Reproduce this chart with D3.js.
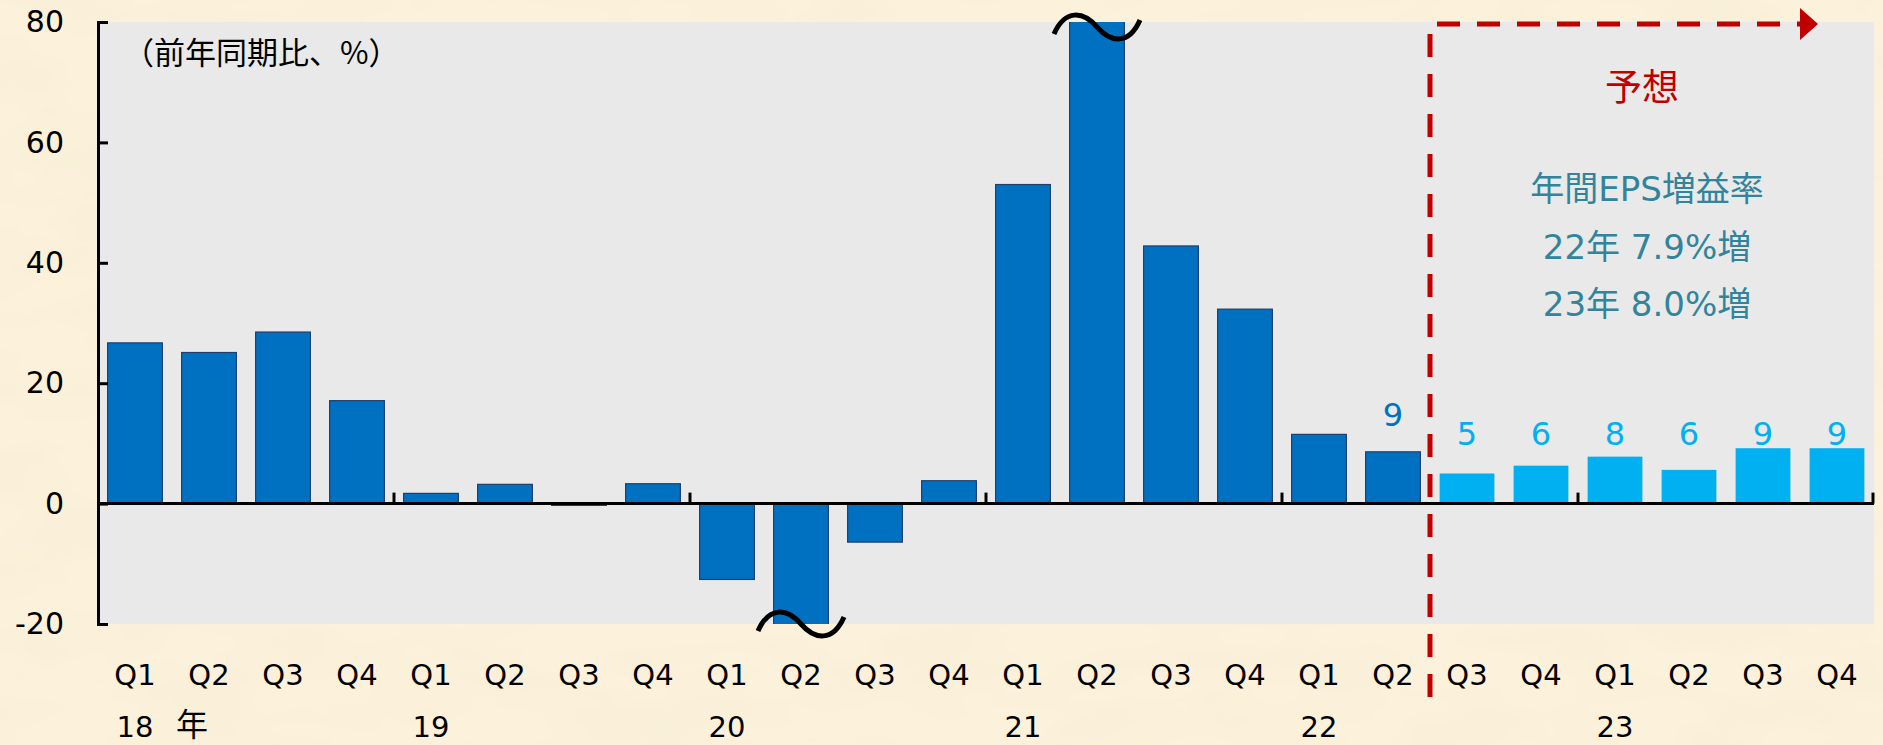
<!DOCTYPE html>
<html>
<head>
<meta charset="utf-8">
<script src="https://cdn.jsdelivr.net/npm/d3@7"></script>
<style>
  html, body { margin: 0; padding: 0; background: #fcf1da; }
  svg { display: block; }
</style>
</head>
<body>
<svg id="chart" width="1883" height="745"></svg>
<script>
// quarterly EPS growth, % y/y
const quarters = ["Q1","Q2","Q3","Q4","Q1","Q2","Q3","Q4","Q1","Q2","Q3","Q4",
                  "Q1","Q2","Q3","Q4","Q1","Q2","Q3","Q4","Q1","Q2","Q3","Q4"];
const yearLabels = ["18","19","20","21","22","23"];
const actual = [26.7, 25.1, 28.5, 17.1, 1.7, 3.2, -0.3, 3.3, -12.6, -31.6, -6.4, 3.8,
                53.0, 88.8, 42.8, 32.3, 11.5, 8.6];
const forecast = [5.0, 6.3, 7.8, 5.6, 9.2, 9.2];
const forecastLabels = ["5","6","8","6","9","9"];
const lastActualLabel = "9";
const yTicks = [-20, 0, 20, 40, 60, 80];
const noteLines = ["年間EPS増益率", "22年 7.9%増", "23年 8.0%増"];

const W = 1883, H = 745;
const margin = {top: 22, right: 9, bottom: 121, left: 98};
const latin = "'DejaVu Sans', 'Noto Sans CJK JP', sans-serif";
const jp = "'Noto Sans CJK JP', sans-serif";

const data = d3.range(quarters.length).map(i => ({
  i: i,
  q: quarters[i],
  v: i < actual.length ? actual[i] : forecast[i - actual.length],
  fc: i >= actual.length
}));

const svg = d3.select("#chart");

// paper background
const defs = svg.append("defs");
const f = defs.append("filter").attr("id", "paper")
  .attr("x", 0).attr("y", 0).attr("width", "100%").attr("height", "100%");
f.append("feTurbulence").attr("type", "fractalNoise")
  .attr("baseFrequency", "0.008 0.02").attr("numOctaves", 3).attr("seed", 7);
f.append("feColorMatrix").attr("type", "matrix")
  .attr("values", "0 0 0 0 0.93  0 0 0 0 0.86  0 0 0 0 0.68  0 0 0 1.3 -0.5");
svg.append("rect").attr("width", W).attr("height", H).attr("fill", "#fcf1da");
svg.append("rect").attr("width", W).attr("height", H).attr("filter", "url(#paper)");

const x = d3.scaleBand()
  .domain(data.map(d => d.i))
  .range([margin.left, W - margin.right])
  .paddingInner(0.26)
  .paddingOuter(0.13);

const y = d3.scaleLinear()
  .domain([-20, 80])
  .range([H - margin.bottom, margin.top]);

const gap = (x.step() - x.bandwidth()) / 2;

// plot area
svg.append("rect")
  .attr("x", margin.left).attr("y", y(80))
  .attr("width", W - margin.right - margin.left)
  .attr("height", y(-20) - y(80))
  .attr("fill", "#e9e9e9");

defs.append("clipPath").attr("id", "plotclip")
  .append("rect")
  .attr("x", margin.left).attr("y", y(80))
  .attr("width", W - margin.right - margin.left)
  .attr("height", y(-20) - y(80));

// bars
svg.append("g").attr("clip-path", "url(#plotclip)")
  .selectAll("rect")
  .data(data)
  .join("rect")
    .attr("x", d => x(d.i))
    .attr("width", x.bandwidth())
    .attr("y", d => y(Math.max(0, d.v)))
    .attr("height", d => Math.abs(y(d.v) - y(0)))
    .attr("fill", d => d.fc ? "#00b0f0" : "#0070c0")
    .attr("stroke", d => d.fc ? "none" : "#1f3f6e")
    .attr("stroke-width", 1.2);

// y axis
const yAxis = svg.append("g")
  .attr("transform", `translate(${margin.left},0)`)
  .call(d3.axisLeft(y).tickValues(yTicks).tickSize(-10).tickPadding(34)
        .tickFormat(d => String(d)));
yAxis.select(".domain").attr("stroke", "#000").attr("stroke-width", 3);
yAxis.selectAll(".tick line").attr("stroke", "#000").attr("stroke-width", 3);
yAxis.selectAll(".tick text")
  .attr("font-family", latin).attr("font-size", 30).attr("fill", "#000");

// zero line and year separators
svg.append("line")
  .attr("x1", margin.left).attr("x2", W - margin.right)
  .attr("y1", y(0)).attr("y2", y(0))
  .attr("stroke", "#000").attr("stroke-width", 3);
svg.append("g").selectAll("line")
  .data(data.filter(d => d.i > 0 && d.i % 4 === 0).map(d => x(d.i) - gap)
        .concat([W - margin.right - 1]))
  .join("line")
    .attr("x1", d => d).attr("x2", d => d)
    .attr("y1", y(0)).attr("y2", y(0) - 11)
    .attr("stroke", "#000").attr("stroke-width", 3);

// quarter labels
svg.append("g").selectAll("text")
  .data(data)
  .join("text")
    .attr("x", d => x(d.i) + x.bandwidth() / 2)
    .attr("y", 685)
    .attr("text-anchor", "middle")
    .attr("font-family", latin).attr("font-size", 29)
    .text(d => d.q);

// year labels
svg.append("g").selectAll("text")
  .data(yearLabels)
  .join("text")
    .attr("x", (d, k) => x(k * 4) + x.bandwidth() / 2)
    .attr("y", 737)
    .attr("text-anchor", "middle")
    .attr("font-family", latin).attr("font-size", 29)
    .text(d => d);
svg.append("text")
  .attr("x", x(0) + x.bandwidth() / 2 + 57).attr("y", 736)
  .attr("text-anchor", "middle")
  .attr("font-family", jp).attr("font-size", 32)
  .text("年");

// value labels
svg.append("text")
  .attr("x", x(actual.length - 1) + x.bandwidth() / 2)
  .attr("y", y(actual[actual.length - 1]) - 26)
  .attr("text-anchor", "middle")
  .attr("font-family", latin).attr("font-size", 32).attr("fill", "#0070c0")
  .text(lastActualLabel);
svg.append("g").selectAll("text")
  .data(data.filter(d => d.fc))
  .join("text")
    .attr("x", d => x(d.i) + x.bandwidth() / 2)
    .attr("y", y(9.7))
    .attr("text-anchor", "middle")
    .attr("font-family", latin).attr("font-size", 32).attr("fill", "#00b0f0")
    .text((d, k) => forecastLabels[k]);

// axis break marks
function wave(cx, cy) {
  return `M${cx - 43},${cy + 7} C${cx - 32},${cy - 18} ${cx - 14},${cy - 16} ${cx},${cy}` +
         ` C${cx + 14},${cy + 16} ${cx + 32},${cy + 18} ${cx + 43},${cy - 7}`;
}
svg.append("g").selectAll("path")
  .data(data.filter(d => d.v > 80 || d.v < -20))
  .join("path")
    .attr("d", d => wave(x(d.i) + x.bandwidth() / 2, d.v > 80 ? y(80) + 5 : y(-20)))
    .attr("fill", "none").attr("stroke", "#000").attr("stroke-width", 5);

// forecast marker
const xb = x(actual.length) - gap;
const arrowTip = W - 65;
svg.append("path")
  .attr("d", `M${xb},${y(-20) + 73} V${y(80) + 2} H${arrowTip - 18}`)
  .attr("fill", "none").attr("stroke", "#c00000").attr("stroke-width", 5)
  .attr("stroke-dasharray", "23,17");
svg.append("path")
  .attr("d", `M${arrowTip - 18},${y(80) - 14} L${arrowTip},${y(80) + 2} L${arrowTip - 18},${y(80) + 18} Z`)
  .attr("fill", "#c00000");

svg.append("text")
  .attr("x", 1642).attr("y", 101)
  .attr("text-anchor", "middle")
  .attr("font-family", jp).attr("font-size", 37).attr("fill", "#c00000")
  .text("予想");

svg.append("g").selectAll("text")
  .data(noteLines)
  .join("text")
    .attr("x", 1647)
    .attr("y", (d, k) => 201 + k * 57.5)
    .attr("text-anchor", "middle")
    .attr("font-family", latin).attr("font-size", 34).attr("fill", "#31849b")
    .attr("xml:space", "preserve")
    .text(d => d);

// unit note
svg.append("text")
  .attr("x", 123).attr("y", 64)
  .attr("font-family", jp).attr("font-size", 31).attr("fill", "#000")
  .text("（前年同期比、%）");
</script>
</body>
</html>
